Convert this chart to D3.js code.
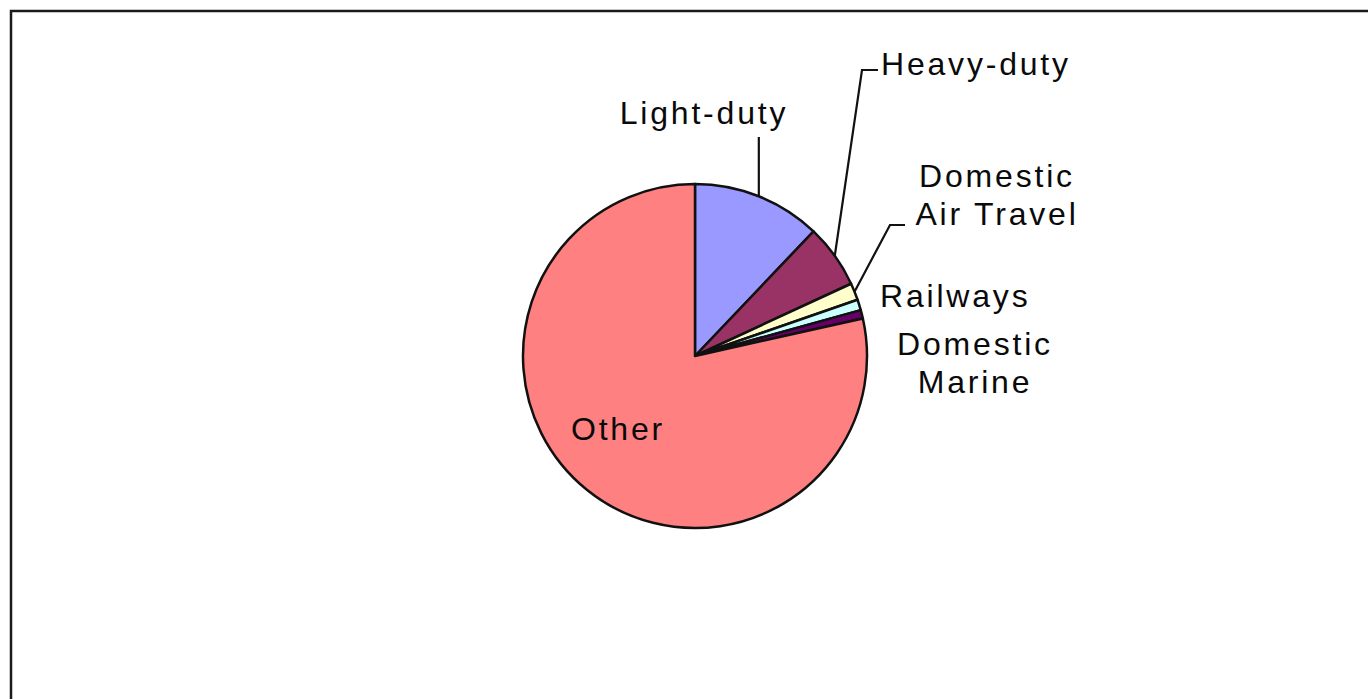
<!DOCTYPE html>
<html>
<head>
<meta charset="utf-8">
<script src="https://cdn.jsdelivr.net/npm/d3@7"></script>
<style>
  body { margin: 0; background: #fff; }
  svg { display: block; }
  .lbl { font-family: "Liberation Sans", Arial, sans-serif; font-size: 32px; fill: #0a0a0a; letter-spacing: 2.8px; }
</style>
</head>
<body>
<div id="chart"></div>
<script>
// categories, clockwise from 12 o'clock
var categories = ["Light-duty", "Heavy-duty", "Domestic Air Travel", "Railways", "Domestic Marine", "Other"]
// share of emissions (%)
var values = [12.1, 6.0, 1.6, 1.0, 0.8, 78.5]
var colors = ["#9999ff", "#993366", "#ffffcc", "#ccffff", "#660066", "#ff8080"]

var width = 1368, height = 699
var cx = 695, cy = 356, r = 172

var svg = d3.select("#chart").append("svg")
  .attr("width", width)
  .attr("height", height)

// outer frame (runs off right and bottom edge)
svg.append("rect")
  .attr("x", 11).attr("y", 11)
  .attr("width", 1500).attr("height", 900)
  .style("fill", "none")
  .style("stroke", "#1a1a1a")
  .style("stroke-width", "2.5px")

var data = categories.map(function(c, i){ return {name: c, value: values[i], color: colors[i]} })

var pie = d3.pie().sort(null).value(function(d){ return d.value })
var arc = d3.arc().innerRadius(0).outerRadius(r)
var arcs = pie(data)

var g = svg.append("g").attr("transform", "translate(" + cx + "," + cy + ")")

g.selectAll(".slice").data(arcs).enter().append("path")
  .attr("class", "slice")
  .attr("d", arc)
  .style("fill", function(d){ return d.data.color })
  .style("stroke", "#111")
  .style("stroke-width", "2.5px")
  .style("stroke-linejoin", "round")

// point on the rim at the middle of a slice
function rimPoint(d){
  var a = (d.startAngle + d.endAngle) / 2
  return [r * Math.sin(a), -r * Math.cos(a)]
}

// leader lines, in chart coords relative to pie center
var leaders = {
  "Light-duty": function(p){ return [p, [p[0], 137 - cy]] },
  "Heavy-duty": function(p){ return [p, [862 - cx, 70 - cy], [878 - cx, 70 - cy]] },
  "Domestic Air Travel": function(p){ return [p, [890 - cx, 225 - cy], [905 - cx, 225 - cy]] }
}
var line = d3.line()
arcs.forEach(function(d){
  if(leaders[d.data.name]){
    g.append("path")
      .attr("d", line(leaders[d.data.name](rimPoint(d))))
      .style("fill", "none")
      .style("stroke", "#111")
      .style("stroke-width", "2.2px")
  }
})

// label text blocks
var labels = [
  {lines: ["Light-duty"], x: 704, y: 124, anchor: "middle"},
  {lines: ["Heavy-duty"], x: 881, y: 75, anchor: "start"},
  {lines: ["Domestic", "Air Travel"], x: 997, y: 187, anchor: "middle"},
  {lines: ["Railways"], x: 880, y: 307, anchor: "start"},
  {lines: ["Domestic", "Marine"], x: 975, y: 355, anchor: "middle"},
  {lines: ["Other"], x: 618, y: 440, anchor: "middle"}
]
labels.forEach(function(l){
  var t = svg.append("text").attr("class", "lbl")
    .attr("text-anchor", l.anchor)
  l.lines.forEach(function(s, i){
    t.append("tspan").attr("x", l.x).attr("y", l.y + i * 38).text(s)
  })
})
</script>
</body>
</html>
